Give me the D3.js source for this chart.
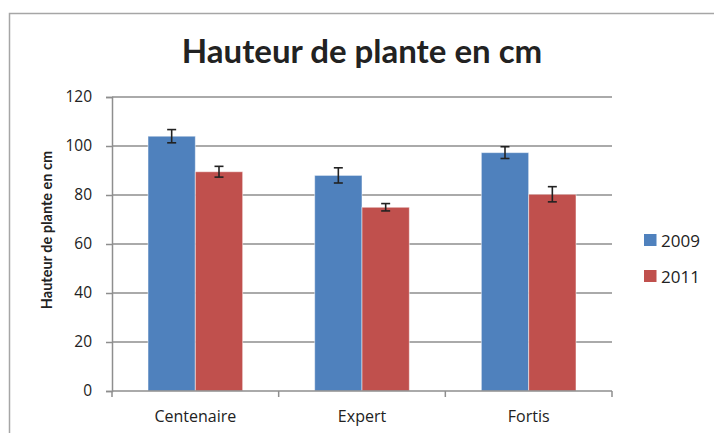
<!DOCTYPE html>
<html>
<head>
<meta charset="utf-8">
<script src="https://cdn.jsdelivr.net/npm/d3@7"></script>
<style>
  body { margin: 0; background: #fff; }
  text { font-family: Lato, "Open Sans", sans-serif; fill: #222; }
</style>
</head>
<body>
<svg id="chart" width="714" height="433"></svg>
<script>
const categories = ['Centenaire', 'Expert', 'Fortis'];
const years = ['2009', '2011'];
const values2009 = [104, 88, 97.3];
const values2011 = [89.5, 75, 80.3];
const err2009 = [2.7, 3.1, 2.4];
const err2011 = [2.2, 1.5, 3.1];
const yTicks = [0, 20, 40, 60, 80, 100, 120];
const colors = ['#4f81bd', '#c0504d'];

const svg = d3.select('#chart');
const margin = { top: 97, left: 112, right: 102, bottom: 42 };
const width = +svg.attr('width');
const height = +svg.attr('height');
const innerWidth = width - margin.left - margin.right;
const innerHeight = height - margin.top - margin.bottom;

// rows built from the arrays above
const rows = categories.map((c, i) => ({
  cat: c,
  vals: [
    { year: years[0], v: values2009[i], e: err2009[i] },
    { year: years[1], v: values2011[i], e: err2011[i] }
  ]
}));

// chart frame
svg.append('path')
    .attr('d', 'M9.5,433 L9.5,13.5 L714,13.5')
    .attr('fill', 'none')
    .attr('stroke', '#a6a6a6')
    .attr('stroke-width', 1.5);

const g = svg.append('g')
    .attr('transform', 'translate(' + margin.left + ',' + margin.top + ')');

const x0 = d3.scaleBand()
    .domain(categories)
    .range([0, innerWidth])
    .paddingInner(0.432)
    .paddingOuter(0.216);

// full band for ticks
const xTick = d3.scaleBand().domain(categories).range([0, innerWidth]);

const x1 = d3.scaleBand()
    .domain(years)
    .range([0, x0.bandwidth()]);

const y = d3.scaleLinear()
    .domain([0, 120])
    .range([innerHeight, 0]);

// gridlines
g.selectAll('.grid')
    .data(yTicks.filter(d => d > 0))
    .enter().append('line')
    .attr('x1', 0)
    .attr('x2', innerWidth)
    .attr('y1', d => y(d))
    .attr('y2', d => y(d))
    .attr('stroke', '#8e8e8e')
    .attr('stroke-width', 1.5);

// y axis
const yAxis = g.append('g')
    .call(d3.axisLeft(y).tickValues(yTicks).tickSize(6).tickPadding(14));
yAxis.select('.domain').attr('stroke', '#8e8e8e').attr('stroke-width', 1.5);
yAxis.selectAll('.tick line').attr('stroke', '#8e8e8e').attr('stroke-width', 1.5);
yAxis.selectAll('text')
    .style('font-family', '"Open Sans", sans-serif')
    .style('font-size', '15.5px')
    .attr('fill', '#222');

// bars
const groups = g.selectAll('.grp')
    .data(rows)
    .enter().append('g')
    .attr('transform', d => 'translate(' + x0(d.cat) + ',0)');

groups.selectAll('rect')
    .data(d => d.vals)
    .enter().append('rect')
    .attr('x', d => x1(d.year))
    .attr('y', d => y(d.v))
    .attr('width', x1.bandwidth())
    .attr('height', d => innerHeight - y(d.v))
    .attr('fill', (d, i) => colors[i])
    .attr('stroke', 'rgba(255,255,255,0.5)')
    .attr('stroke-width', 1);

// error bars
const eb = groups.selectAll('.err')
    .data(d => d.vals)
    .enter().append('g')
    .attr('stroke', '#222')
    .attr('stroke-width', 1.6);
eb.append('line')
    .attr('x1', d => x1(d.year) + x1.bandwidth() / 2)
    .attr('x2', d => x1(d.year) + x1.bandwidth() / 2)
    .attr('y1', d => y(d.v + d.e))
    .attr('y2', d => y(d.v - d.e));
eb.selectAll('.cap')
    .data(d => [d.v + d.e, d.v - d.e].map(t => ({ t: t, year: d.year })))
    .enter().append('line')
    .attr('x1', d => x1(d.year) + x1.bandwidth() / 2 - 4.5)
    .attr('x2', d => x1(d.year) + x1.bandwidth() / 2 + 4.5)
    .attr('y1', d => y(d.t))
    .attr('y2', d => y(d.t));

// x axis
const xAxis = g.append('g')
    .attr('transform', 'translate(0,' + innerHeight + ')');
xAxis.append('line')
    .attr('x1', 0).attr('x2', innerWidth)
    .attr('stroke', '#8e8e8e').attr('stroke-width', 1.5);
xAxis.selectAll('.xt')
    .data([0].concat(categories.map(c => xTick(c) + xTick.bandwidth())))
    .enter().append('line')
    .attr('x1', d => d).attr('x2', d => d)
    .attr('y1', 0).attr('y2', 6)
    .attr('stroke', '#8e8e8e').attr('stroke-width', 1.5);
xAxis.selectAll('.xl')
    .data(categories)
    .enter().append('text')
    .attr('x', d => xTick(d) + xTick.bandwidth() / 2)
    .attr('y', 31)
    .attr('text-anchor', 'middle')
    .style('font-family', '"Open Sans", sans-serif')
    .style('font-size', '16px')
    .text(d => d);

// title
svg.append('text')
    .attr('x', 362)
    .attr('y', 63)
    .attr('text-anchor', 'middle')
    .style('font-weight', 'bold')
    .style('font-size', '33px')
    .text('Hauteur de plante en cm');

// y axis label
svg.append('text')
    .attr('transform', 'translate(52,230) rotate(-90)')
    .attr('text-anchor', 'middle')
    .style('font-weight', 'bold')
    .style('font-size', '14.5px')
    .text('Hauteur de plante en cm');

// legend
const legend = svg.append('g').attr('transform', 'translate(644,240)');
years.forEach((yr, i) => {
  legend.append('rect')
      .attr('x', 0).attr('y', i * 36 - 6)
      .attr('width', 12.5).attr('height', 12)
      .attr('fill', colors[i]);
  legend.append('text')
      .attr('x', 17).attr('y', i * 36 + 6.5)
      .style('font-family', '"Open Sans", sans-serif')
      .style('font-size', '17px')
      .text(yr);
});
</script>
</body>
</html>
